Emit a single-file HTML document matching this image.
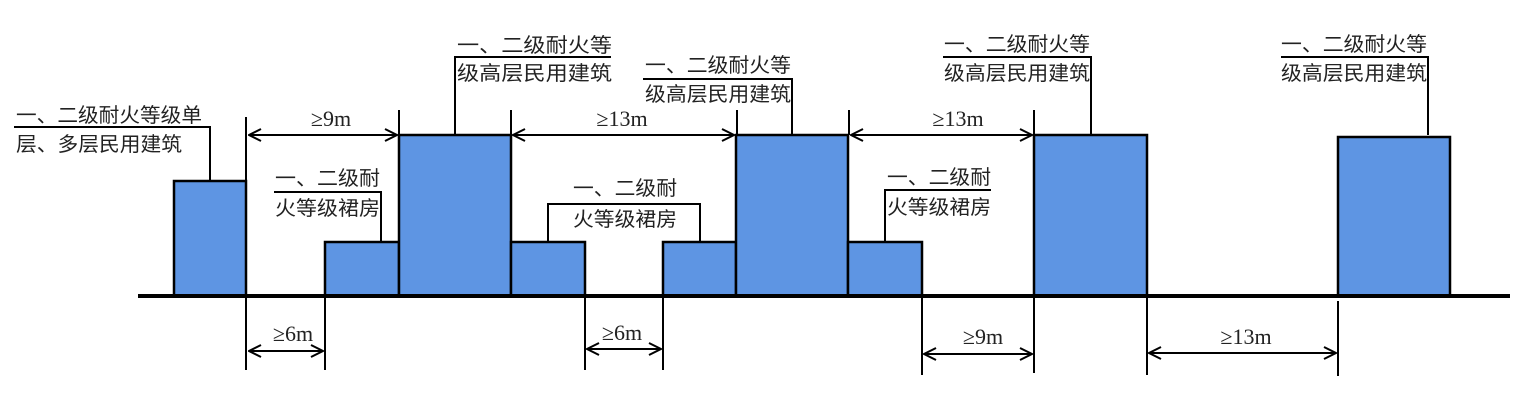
<!DOCTYPE html>
<html><head><meta charset="utf-8"><style>
html,body{margin:0;padding:0;background:#fff;width:1520px;height:404px;overflow:hidden}
svg{display:block}
.t{font-family:"Liberation Sans","Noto Sans CJK SC",sans-serif;font-size:20px;fill:#222}
.d{font-family:"Liberation Serif","DejaVu Serif",serif;font-size:22px;fill:#222}
</style></head><body>
<svg width="1520" height="404" viewBox="0 0 1520 404" xmlns="http://www.w3.org/2000/svg">
<defs>
<marker id="a" viewBox="0 0 14 14" refX="13" refY="7" markerWidth="14" markerHeight="14" markerUnits="userSpaceOnUse" orient="auto-start-reverse">
<path d="M1,1 L13,7 L1,13" fill="none" stroke="#000" stroke-width="2"/>
</marker>
</defs>
<g fill="#5e95e3" stroke="#000" stroke-width="2.5">
<rect x="174" y="181" width="72" height="115"/>
<rect x="325" y="242" width="74" height="54"/>
<rect x="399" y="135" width="112" height="161"/>
<rect x="511" y="242" width="74" height="54"/>
<rect x="663" y="242" width="73" height="54"/>
<rect x="736" y="135" width="112" height="161"/>
<rect x="848" y="242" width="74" height="54"/>
<rect x="1034" y="135" width="113" height="161"/>
<rect x="1338" y="137" width="112" height="159"/>
</g>
<line x1="138" y1="296" x2="1510" y2="296" stroke="#000" stroke-width="4"/>
<g stroke="#000" stroke-width="2" fill="none">
<polyline points="14,127 210,127 210,181"/>
<polyline points="274,192 381,192 381,242"/>
<polyline points="455,135 455,57 611,57"/>
<polyline points="548,242 548,204 700,204 700,242"/>
<polyline points="643,79 792,79 792,135"/>
<polyline points="885,242 885,190 991,190"/>
<polyline points="943,57 1091,57 1091,135"/>
<polyline points="1281,57 1428,57 1428,135"/>
<line x1="246" y1="117" x2="246" y2="370"/>
<line x1="399" y1="110" x2="399" y2="135"/>
<line x1="325" y1="296" x2="325" y2="370"/>
<line x1="511" y1="110" x2="511" y2="135"/>
<line x1="737" y1="110" x2="737" y2="135"/>
<line x1="849" y1="110" x2="849" y2="135"/>
<line x1="1034" y1="110" x2="1034" y2="187"/>
<line x1="585" y1="296" x2="585" y2="370"/>
<line x1="663" y1="296" x2="663" y2="370"/>
<line x1="922" y1="296" x2="922" y2="375"/>
<line x1="1034" y1="296" x2="1034" y2="373"/>
<line x1="1147" y1="296" x2="1147" y2="375"/>
<line x1="1338" y1="301" x2="1338" y2="376"/>
<line x1="249" y1="135" x2="397" y2="135" marker-start="url(#a)" marker-end="url(#a)"/>
<line x1="513" y1="135" x2="734" y2="135" marker-start="url(#a)" marker-end="url(#a)"/>
<line x1="851" y1="135" x2="1032" y2="135" marker-start="url(#a)" marker-end="url(#a)"/>
<line x1="249" y1="351" x2="323" y2="351" marker-start="url(#a)" marker-end="url(#a)"/>
<line x1="587" y1="349" x2="661" y2="349" marker-start="url(#a)" marker-end="url(#a)"/>
<line x1="924" y1="354" x2="1032" y2="354" marker-start="url(#a)" marker-end="url(#a)"/>
<line x1="1149" y1="353" x2="1336" y2="353" marker-start="url(#a)" marker-end="url(#a)"/>
</g>
<g class="t">
<text x="16" y="122" textLength="186" lengthAdjust="spacingAndGlyphs">一、二级耐火等级单</text>
<text x="16" y="151" textLength="166" lengthAdjust="spacingAndGlyphs">层、多层民用建筑</text>
<text x="275" y="185" textLength="105" lengthAdjust="spacingAndGlyphs">一、二级耐</text>
<text x="275" y="215" textLength="105" lengthAdjust="spacingAndGlyphs">火等级裙房</text>
<text x="457" y="52" textLength="155" lengthAdjust="spacingAndGlyphs">一、二级耐火等</text>
<text x="457" y="80" textLength="155" lengthAdjust="spacingAndGlyphs">级高层民用建筑</text>
<text x="573" y="195" textLength="104" lengthAdjust="spacingAndGlyphs">一、二级耐</text>
<text x="573" y="226" textLength="104" lengthAdjust="spacingAndGlyphs">火等级裙房</text>
<text x="645" y="72" textLength="146" lengthAdjust="spacingAndGlyphs">一、二级耐火等</text>
<text x="645" y="101" textLength="146" lengthAdjust="spacingAndGlyphs">级高层民用建筑</text>
<text x="887" y="184" textLength="104" lengthAdjust="spacingAndGlyphs">一、二级耐</text>
<text x="887" y="214" textLength="104" lengthAdjust="spacingAndGlyphs">火等级裙房</text>
<text x="944" y="51" textLength="146" lengthAdjust="spacingAndGlyphs">一、二级耐火等</text>
<text x="944" y="80" textLength="146" lengthAdjust="spacingAndGlyphs">级高层民用建筑</text>
<text x="1281" y="51" textLength="146" lengthAdjust="spacingAndGlyphs">一、二级耐火等</text>
<text x="1281" y="80" textLength="146" lengthAdjust="spacingAndGlyphs">级高层民用建筑</text>
</g>
<g class="d" text-anchor="middle">
<text x="331" y="126">≥9m</text>
<text x="622" y="126">≥13m</text>
<text x="958" y="126">≥13m</text>
<text x="293" y="341">≥6m</text>
<text x="622" y="340">≥6m</text>
<text x="983" y="344">≥9m</text>
<text x="1246" y="344">≥13m</text>
</g>
</svg>
</body></html>
